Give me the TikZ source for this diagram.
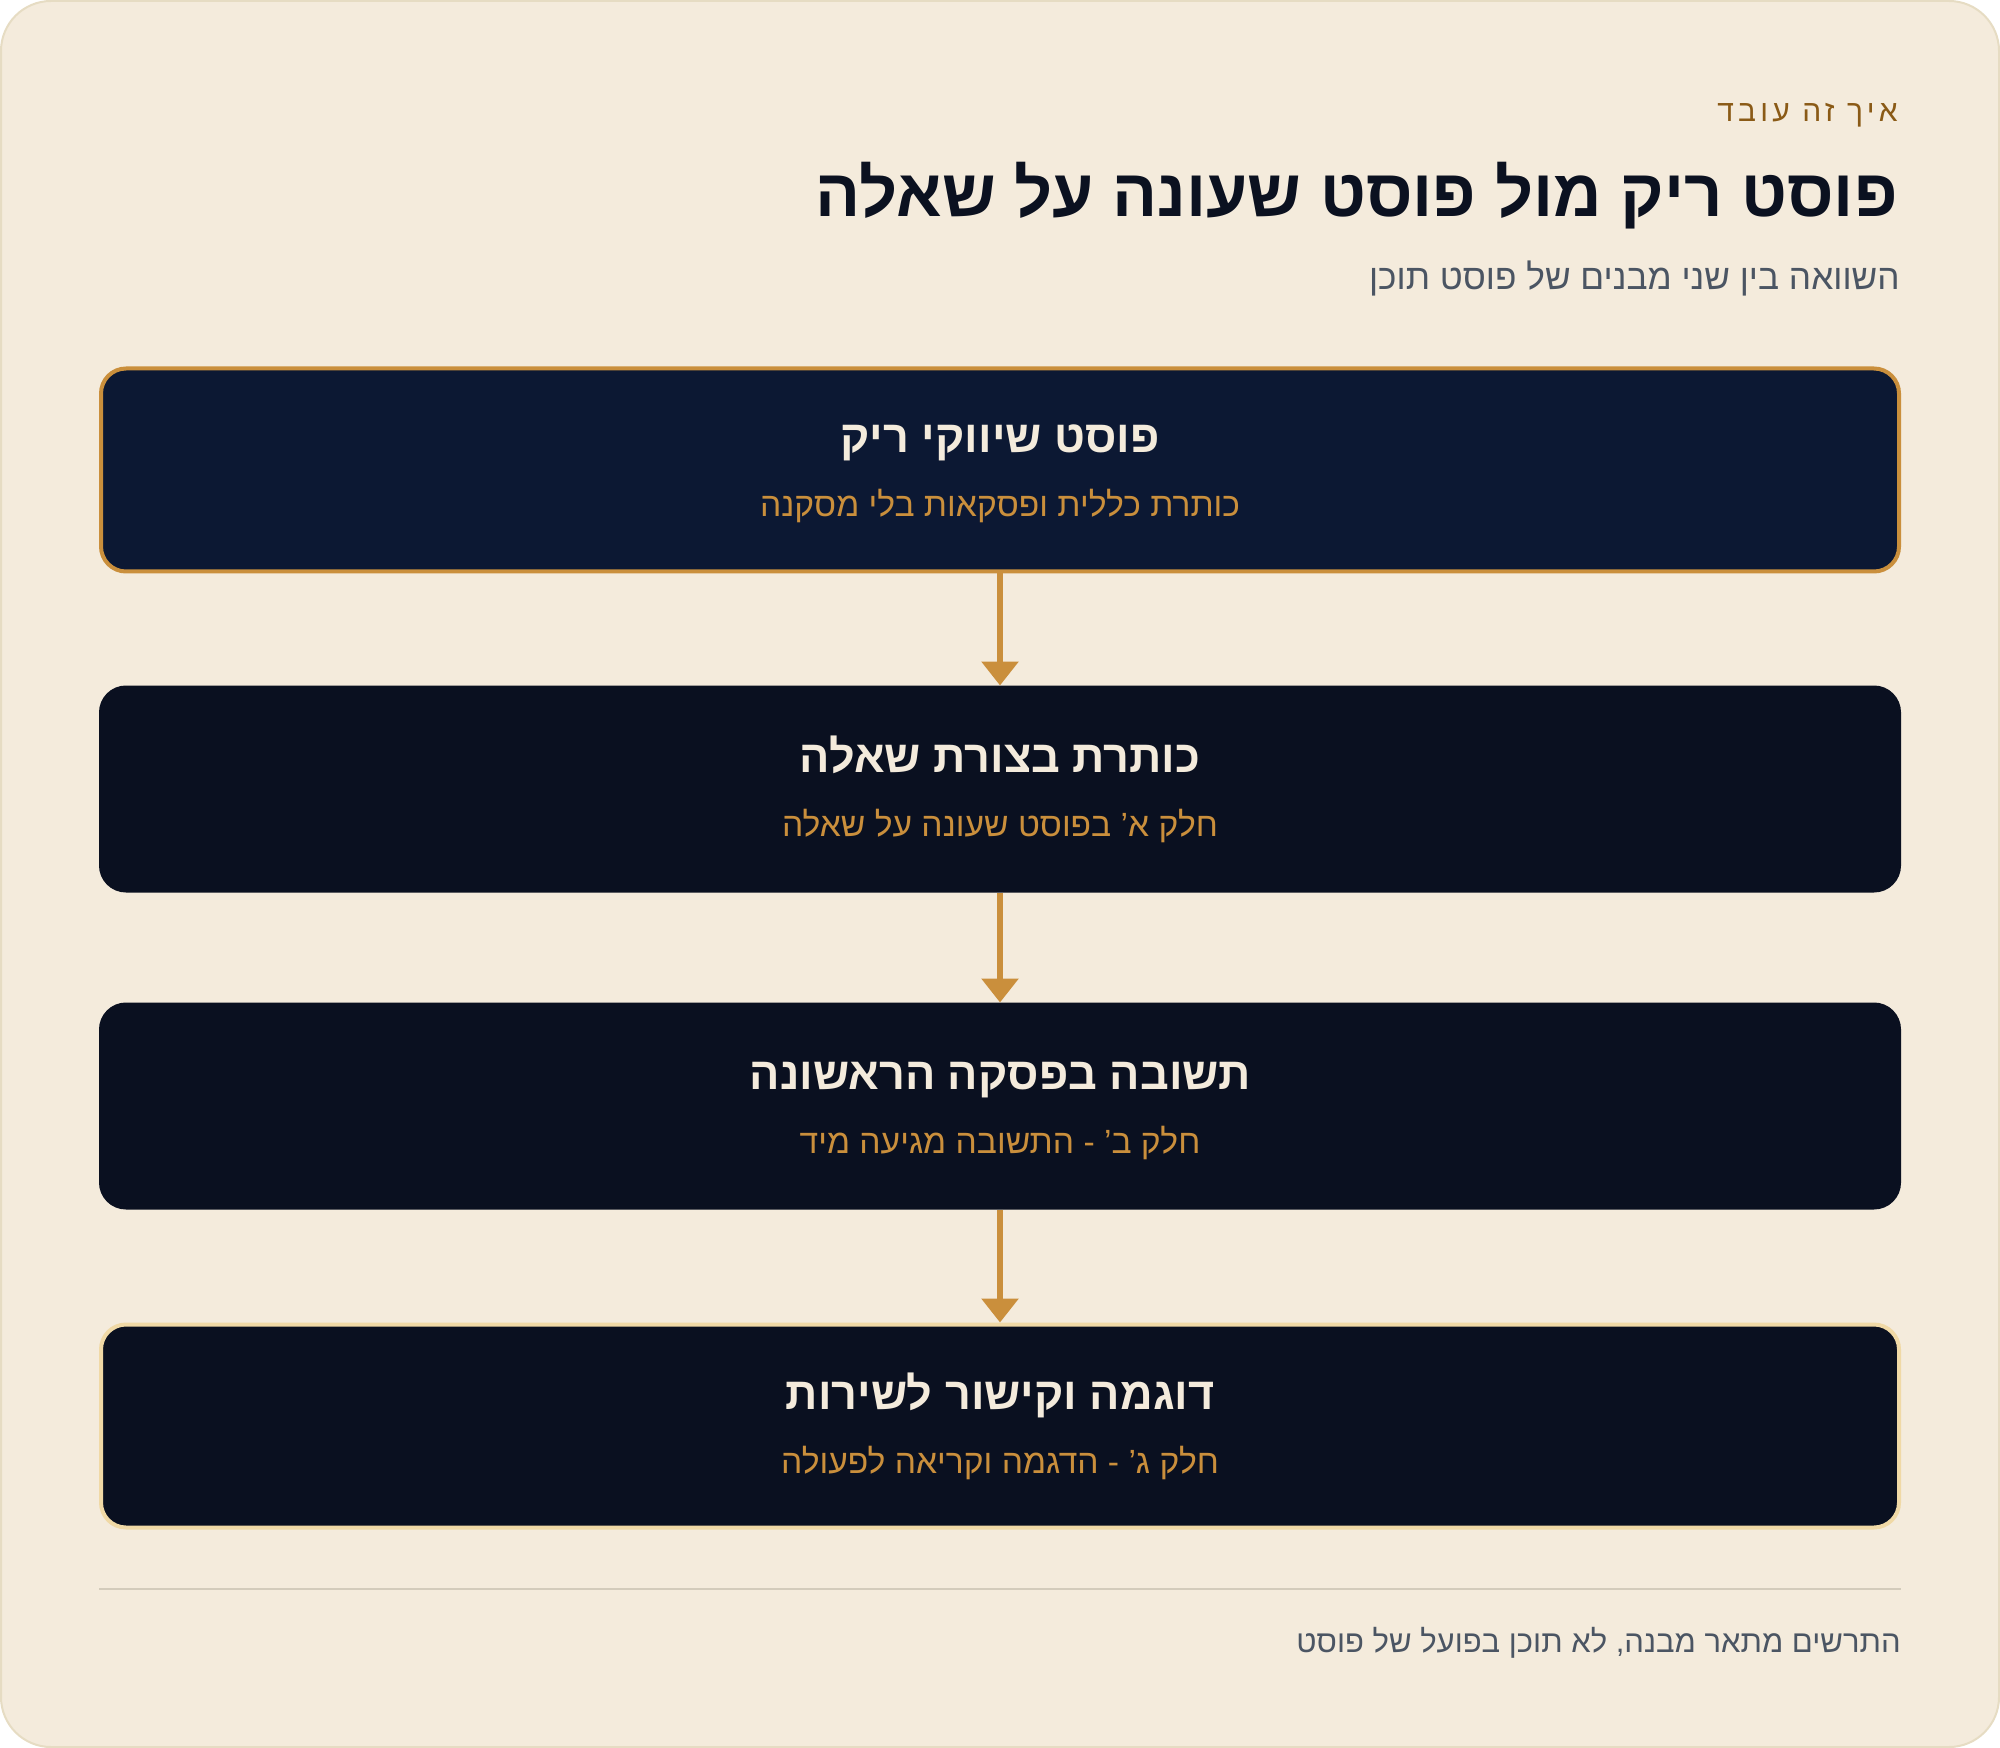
\documentclass[tikz,border=0pt]{standalone}
\usepackage{fontspec}
\usepackage{xcolor}
\usetikzlibrary{arrows.meta}
\TeXXeTstate=1
\setmainfont{Liberation Sans}
\newfontfamily\hebfont[Script=Hebrew]{Liberation Sans}
\newfontfamily\hebspaced[Script=Hebrew,LetterSpace=14]{Liberation Sans}

\definecolor{paper}{HTML}{F4EBDC}
\definecolor{paperedge}{HTML}{E6DCC3}
\definecolor{ink}{HTML}{0B1120}
\definecolor{navy}{HTML}{0C1833}
\definecolor{night}{HTML}{0A1020}
\definecolor{amber}{HTML}{CA8F3C}
\definecolor{pale}{HTML}{F0D9A6}
\definecolor{brown}{HTML}{8A5A16}
\definecolor{slate}{HTML}{4B5563}
\definecolor{rule}{HTML}{D3CBBB}

\tikzset{>={Triangle[width=18pt,length=12pt]},
  card/.style={rounded corners=12.5pt, minimum width=899pt, minimum height=101.5pt, line width=2pt},
  cardtitle/.style={anchor=base, inner sep=0pt, text=paper, font=\hebfont\bfseries\fontsize{22.5}{27}\selectfont},
  cardsub/.style={anchor=base, inner sep=0pt, text=amber, font=\hebfont\fontsize{16.8}{20}\selectfont},
  headline/.style={anchor=base east, inner sep=0pt},
  flow/.style={->, line width=3pt, amber}}

\begin{document}
\begin{tikzpicture}[x=0.5pt,y=-0.5pt]
    \useasboundingbox (0,0) rectangle (2000,1748);
    \draw[fill=paper, draw=paperedge, line width=1pt, rounded corners=25pt] (1,1) rectangle (1999,1747);

    % heading
    \node[headline, text=brown, font=\hebspaced\fontsize{15}{18}\selectfont] at (1898,122) (kicker) {\beginR איך זה עובד\endR};
    \node[headline, text=ink, font=\hebfont\bfseries\fontsize{33.4}{40}\selectfont] at (1898,217) (title) {\beginR פוסט ריק מול פוסט שעונה על שאלה\endR};
    \node[headline, text=slate, font=\hebfont\fontsize{17.6}{21}\selectfont] at (1900,290) (lead) {\beginR השוואה בין שני מבנים של פוסט תוכן\endR};

    % cards
    \node[card, fill=navy, draw=amber] at (1000,470) (empty) {};
    \node[card, fill=night, draw=night] at (1000,789) (question) {};
    \node[card, fill=night, draw=night] at (1000,1106) (answer) {};
    \node[card, fill=night, draw=pale] at (1000,1426) (example) {};

    \node[cardtitle] at ([yshift=8.5pt]empty.center) (emptyT) {\beginR פוסט שיווקי ריק\endR};
    \node[cardsub] at ([yshift=-23.5pt]empty.center) (emptyS) {\beginR כותרת כללית ופסקאות בלי מסקנה\endR};
    \node[cardtitle] at ([yshift=8.5pt]question.center) (questionT) {\beginR כותרת בצורת שאלה\endR};
    \node[cardsub] at ([yshift=-23.5pt]question.center) (questionS) {\beginR חלק א’ בפוסט שעונה על שאלה\endR};
    \node[cardtitle] at ([yshift=8.5pt]answer.center) (answerT) {\beginR תשובה בפסקה הראשונה\endR};
    \node[cardsub] at ([yshift=-23.5pt]answer.center) (answerS) {\beginR חלק ב’ - התשובה מגיעה מיד\endR};
    \node[cardtitle] at ([yshift=8.5pt]example.center) (exampleT) {\beginR דוגמה וקישור לשירות\endR};
    \node[cardsub] at ([yshift=-23.5pt]example.center) (exampleS) {\beginR חלק ג’ - הדגמה וקריאה לפעולה\endR};

    \draw[flow] (empty) -- (question);
    \draw[flow] (question) -- (answer);
    \draw[flow] (answer) -- (example);

    % footer
    \draw[rule, line width=1pt] (99,1589) -- (1901,1589);
    \node[headline, text=slate, font=\hebfont\fontsize{15.5}{19}\selectfont] at (1901,1652) (note) {\beginR התרשים מתאר מבנה, לא תוכן בפועל של פוסט\endR};
\end{tikzpicture}
\end{document}
